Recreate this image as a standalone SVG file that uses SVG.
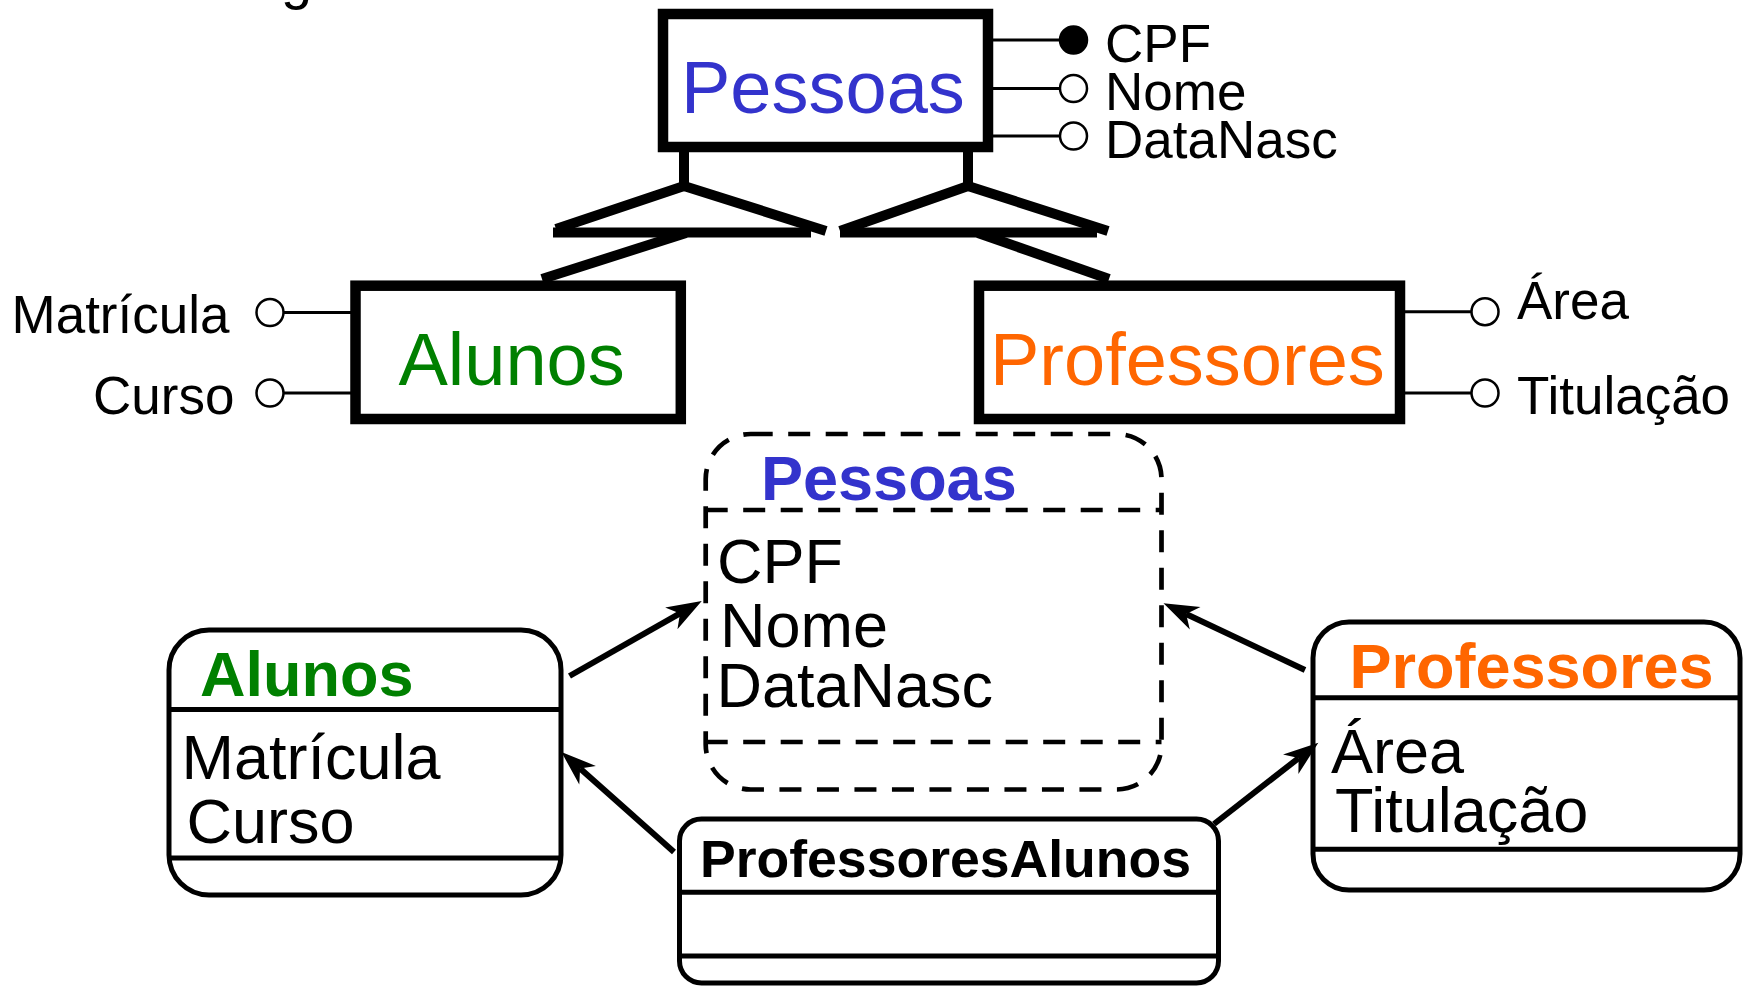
<svg xmlns="http://www.w3.org/2000/svg" width="1743" height="989" viewBox="0 0 1743 989">
<style>
text{font-family:"Liberation Sans",Arial,Helvetica,sans-serif;fill:#000}
.er{fill:#fff;stroke:#000;stroke-width:10.5}
.ln{stroke:#000;stroke-width:3;fill:none}
.oc{fill:#fff;stroke:#000;stroke-width:2.5}
.fc{fill:#000;stroke:#000;stroke-width:2.5}
.hier{stroke:#000;stroke-width:10;fill:none;stroke-linejoin:miter}
.uml{fill:#fff;stroke:#000;stroke-width:5}
.div{stroke:#000;stroke-width:5;fill:none}
.dash{fill:none;stroke:#000;stroke-width:4.7;stroke-dasharray:22 15.5}
.arr{stroke:#000;stroke-width:6;fill:none;marker-end:url(#ah)}
.t74{font-size:74px}
.a52{font-size:53px}
.a62{font-size:63px}
.b63{font-size:63px;font-weight:bold}
.blue{fill:#3333cc}
.green{fill:#008000}
.orange{fill:#ff6600}
</style>
<defs>
<marker id="ah" markerUnits="userSpaceOnUse" markerWidth="60" markerHeight="60" viewBox="-30 -30 60 60" refX="0" refY="0" orient="auto" overflow="visible">
<path d="M25,0 L-10,-12.5 L0,0 L-10,12.5 Z" fill="#000"/>
</marker>
</defs>
<rect width="1743" height="989" fill="#fff"/>
<text x="281" y="-2.5" style="font-size:56px">g</text>

<g id="er-pessoas">
<rect class="er" x="663" y="14" width="325" height="133"/>
<text class="t74 blue" x="681" y="112.5">Pessoas</text>
<line class="ln" x1="988" y1="40" x2="1059" y2="40"/>
<circle class="fc" cx="1073.5" cy="40" r="13.5"/>
<text class="a52" x="1105" y="61.5">CPF</text>
<line class="ln" x1="988" y1="88.5" x2="1059" y2="88.5"/>
<circle class="oc" cx="1073.5" cy="88.5" r="13.5"/>
<text class="a52" x="1105" y="109.5">Nome</text>
<line class="ln" x1="988" y1="136" x2="1059" y2="136"/>
<circle class="oc" cx="1073.5" cy="136" r="13.5"/>
<text class="a52" x="1105" y="157.5">DataNasc</text>
</g>

<g id="er-alunos">
<rect class="er" x="355.5" y="285.7" width="325.3" height="133.3"/>
<text class="t74 green" x="398.5" y="384.5">Alunos</text>
<line class="ln" x1="284" y1="312.5" x2="355" y2="312.5"/>
<circle class="oc" cx="270" cy="312.5" r="13.5"/>
<text class="a52" x="11.5" y="333">Matrícula</text>
<line class="ln" x1="284" y1="393" x2="355" y2="393"/>
<circle class="oc" cx="270" cy="393" r="13.5"/>
<text class="a52" x="93" y="413.5">Curso</text>
</g>

<g id="er-professores">
<rect class="er" x="979" y="285.7" width="421" height="133.3"/>
<text class="t74 orange" x="990" y="384.5">Professores</text>
<line class="ln" x1="1400" y1="311.7" x2="1471" y2="311.7"/>
<circle class="oc" cx="1485" cy="311.7" r="13.5"/>
<text class="a52" x="1517" y="319">Área</text>
<line class="ln" x1="1400" y1="393" x2="1471" y2="393"/>
<circle class="oc" cx="1485" cy="393" r="13.5"/>
<text class="a52" x="1517" y="413.5">Titulação</text>
</g>

<g id="uml-pessoas">
<rect x="705.7" y="434" width="455.8" height="355.5" rx="45" ry="45" fill="#fff"/>
<rect class="dash" x="705.7" y="434" width="455.8" height="355.5" rx="45" ry="45"/>
<line class="dash" x1="705.7" y1="510" x2="1161.5" y2="510"/>
<line class="dash" x1="705.7" y1="742" x2="1161.5" y2="742"/>
<text class="b63 blue" x="761" y="500">Pessoas</text>
<text class="a62" x="717" y="583.3">CPF</text>
<text class="a62" x="720" y="647">Nome</text>
<text class="a62" x="716.5" y="707">DataNasc</text>
</g>

<g id="uml-alunos">
<rect class="uml" x="169" y="630" width="392" height="265" rx="40" ry="40"/>
<line class="div" x1="169" y1="709.6" x2="561" y2="709.6"/>
<line class="div" x1="169" y1="858" x2="561" y2="858"/>
<text class="b63 green" x="200" y="695.8">Alunos</text>
<text class="a62" x="181.5" y="779.3">Matrícula</text>
<text class="a62" x="186.5" y="842.8">Curso</text>
</g>

<g id="uml-professores">
<rect class="uml" x="1313" y="622" width="427" height="268" rx="36" ry="36"/>
<line class="div" x1="1313" y1="697.7" x2="1740" y2="697.7"/>
<line class="div" x1="1313" y1="849.3" x2="1740" y2="849.3"/>
<text class="b63 orange" x="1349.4" y="688.3">Professores</text>
<text class="a62" x="1331" y="772.5">Área</text>
<text class="a62" x="1335" y="831.7">Titulação</text>
</g>

<g id="uml-professoresalunos">
<rect class="uml" x="679.5" y="819" width="539" height="164" rx="22" ry="22"/>
<line class="div" x1="679.5" y1="892.3" x2="1218.5" y2="892.3"/>
<line class="div" x1="679.5" y1="956" x2="1218.5" y2="956"/>
<text x="700" y="877.3" textLength="491" lengthAdjust="spacingAndGlyphs" style="font-size:51px;font-weight:bold">ProfessoresAlunos</text>
</g>

<g id="connectors">
<line class="hier" x1="684" y1="150" x2="684" y2="186"/>
<path class="hier" d="M556,229 L684,186 L826,231"/>
<line class="hier" x1="553" y1="232.5" x2="811" y2="232.5"/>
<line class="hier" x1="686" y1="233" x2="542" y2="279"/>
<line class="hier" x1="968" y1="150" x2="968" y2="186"/>
<path class="hier" d="M840,231 L968,186 L1108,231"/>
<line class="hier" x1="840" y1="232.5" x2="1097" y2="232.5"/>
<line class="hier" x1="978" y1="233" x2="1109" y2="279"/>
<line class="arr" x1="569.5" y1="676" x2="680" y2="613.4"/>
<line class="arr" x1="674" y1="852" x2="580.1" y2="768.6"/>
<line class="arr" x1="1305" y1="670" x2="1186.1" y2="614"/>
<line class="arr" x1="1214" y1="824" x2="1298.6" y2="758.1"/>
</g>
</svg>
